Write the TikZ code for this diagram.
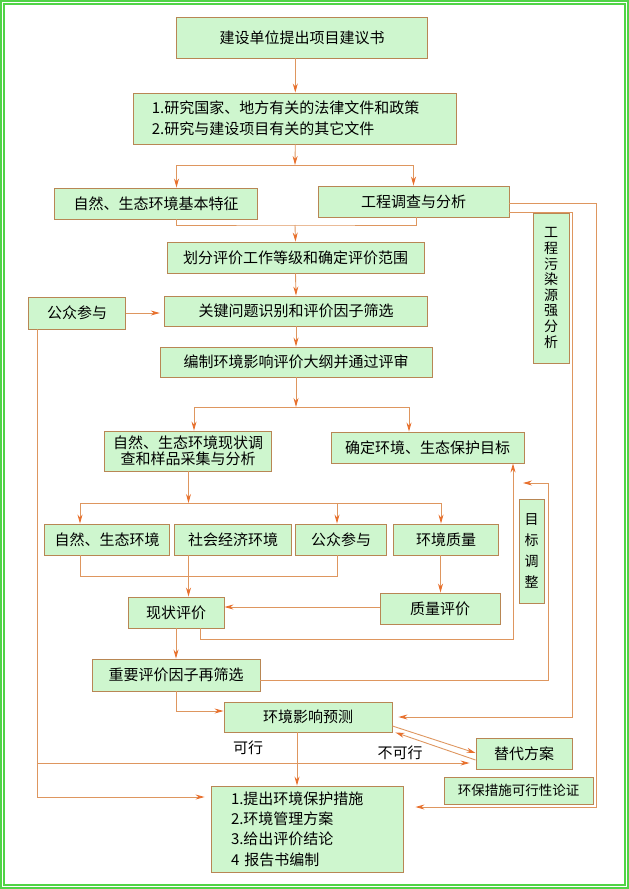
\documentclass[tikz,border=0pt]{standalone}
\usepackage{fontspec}
\setmainfont{Noto Sans CJK SC}
\usetikzlibrary{arrows.meta,positioning}
\definecolor{boxfill}{RGB}{206,246,206}
\definecolor{boxline}{RGB}{184,134,84}
\definecolor{linec}{RGB}{222,150,95}
\definecolor{tipc}{RGB}{232,112,45}
\definecolor{framec}{RGB}{80,212,70}

\begin{document}
\begin{tikzpicture}[x=1pt,y=-1pt,
  box/.style={draw=boxline,fill=boxfill,line width=0.9pt,inner sep=0pt,font=\fontsize{15}{17}\selectfont},
  vbox/.style={box,align=center},
  ln/.style={draw=linec,line width=0.9pt},
  arr/.style={ln,-{Stealth[length=9pt,width=5pt,color=tipc]}}]
\useasboundingbox (0,0) rectangle (629,889);
\draw[framec,line width=1.6pt] (1,1) rectangle (628,888);
\draw[framec,line width=1.6pt] (4,4) rectangle (625,885);

\node[box,minimum width=251,minimum height=41] (prop) at (302,37.5) {建设单位提出项目建议书};
\node[box,minimum width=323,minimum height=51,text width=287,align=left,font=\fontsize{15}{21}\selectfont] (study) at (295.3,118.5)
  {1.研究国家、地方有关的法律文件和政策\\2.研究与建设项目有关的其它文件};
\node[box,minimum width=203.5,minimum height=31] (nat) at (156,203.5) {自然、生态环境基本特征};
\node[box,minimum width=191,minimum height=31] (eng) at (413.5,201.5) {工程调查与分析};
\node[box,minimum width=257,minimum height=31] (grade) at (295.5,257.5) {划分评价工作等级和确定评价范围};
\node[box,minimum width=96.5,minimum height=32] (pub) at (77,313) {公众参与};
\node[box,minimum width=263.5,minimum height=30] (key) at (296,311) {关键问题识别和评价因子筛选};
\node[box,minimum width=272,minimum height=30] (outline) at (296,362) {编制环境影响评价大纲并通过评审};
\node[vbox,minimum width=167.5,minimum height=40,font=\fontsize{15}{16.5}\selectfont] (survey) at (188,451)
  {自然、生态环境现状调\\查和样品采集与分析};
\node[box,minimum width=193,minimum height=31] (target) at (427.5,447.5) {确定环境、生态保护目标};
\node[box,minimum width=124.5,minimum height=31] (envn) at (107,539.5) {自然、生态环境};
\node[box,minimum width=116.5,minimum height=31] (soc) at (233,539.5) {社会经济环境};
\node[box,minimum width=90.5,minimum height=31] (pub2) at (341,539.5) {公众参与};
\node[box,minimum width=104.6,minimum height=31] (qual) at (446,539.5) {环境质量};
\node[box,minimum width=96,minimum height=31] (stat) at (176,612.5) {现状评价};
\node[box,minimum width=120,minimum height=31] (qeval) at (440,608.5) {质量评价};
\node[vbox,minimum width=25,minimum height=104,font=\fontsize{14}{21}\selectfont] (adj) at (531.5,551) {目\\标\\调\\整};
\node[box,minimum width=168,minimum height=32] (refilter) at (176,675) {重要评价因子再筛选};
\node[box,minimum width=168,minimum height=30] (pred) at (308,717) {环境影响预测};
\node[vbox,minimum width=36,minimum height=150,font=\fontsize{14}{15.6}\selectfont] (src) at (551,288)
  {工\\程\\污\\染\\源\\强\\分\\析};
\node[box,minimum width=96,minimum height=31] (alt) at (524,753.5) {替代方案};
\node[box,minimum width=149,minimum height=27,font=\fontsize{13.5}{16}\selectfont] (feas) at (518.5,790.5) {环保措施可行性论证};
\node[box,minimum width=192,minimum height=86,text width=152,align=left,font=\fontsize{15}{20.3}\selectfont] (final) at (307,829)
  {1.提出环境保护措施\\2.环境管理方案\\3.给出评价结论\\4 报告书编制};
\node[font=\fontsize{15}{17}\selectfont] (ok) at (248,748) {可行};
\node[font=\fontsize{15}{17}\selectfont] (nok) at (400,753) {不可行};

\coordinate (s1) at (295,165);
\coordinate (s2) at (295,225);
\coordinate (s3) at (296,407);
\coordinate (s4) at (188.5,503);
\coordinate (s4l) at (80,503);
\coordinate (s4r) at (441,503);
\coordinate (s5) at (80,576);
\coordinate (c1) at (513,639);
\coordinate (c2) at (548,680);
\coordinate (c3) at (523,483);
\coordinate (r1) at (596,203);
\coordinate (r2) at (572,212);
\coordinate (l1) at (37,763);
\coordinate (l2) at (37,797);

\draw[arr] (prop.south -| study.north) -- (study.north);
\draw[arr] (study.south) -- (s1);
\draw[arr] (s1) -| ([xshift=20.5]nat.north);
\draw[arr] (s1) -| (eng.north);
\draw[ln] ([xshift=20.5]nat.south) |- (s2) -| ([xshift=2.5]eng.south);
\draw[arr] (s2) -- (grade.north);
\draw[arr] (grade.south) -- (key.north);
\draw[arr,shorten >=4pt] (pub.east) -- (pub.east -| key.west);
\draw[arr] (key.south) -- (outline.north);
\draw[arr] (outline.south) -- (s3);
\draw[arr] (s3) -| ([xshift=6]survey.north);
\draw[arr] (s3) -| ([xshift=-18.5]target.north);
\draw[arr] (survey.south -| s4) -- (s4);
\draw[ln] (s4l) -- (s4r);
\draw[arr] (s4l) -- (s4l |- envn.north);
\draw[arr] ([xshift=-4]pub2.north |- s4) -- ([xshift=-4]pub2.north);
\draw[arr] (s4r) -- (s4r |- qual.north);
\draw[ln] (s5 |- envn.south) -- (s5) -| ([xshift=-4]pub2.south);
\draw[arr] ([xshift=-44.5]soc.south) -- ([xshift=12.5]stat.north);
\draw[arr] ([xshift=-5.5]qual.south) -- ([xshift=0.5]qeval.north);
\draw[arr] ([yshift=1.5]qeval.west) -- ([yshift=1.5]qeval.west -| stat.east);
\draw[arr] ([xshift=24.5]stat.south) |- (c1) -- (c1 |- target.south);
\draw[arr] (stat.south) -- (refilter.north);
\draw[arr] ([yshift=-5]refilter.east) -- (c2) |- (c3);
\draw[arr] (refilter.south) |- ([yshift=6]pred.west);
\draw[arr,shorten >=12pt] ([yshift=-1.5]eng.east) -- (r1) |- ([yshift=22]final.east);
\draw[arr,shorten >=6pt] ([yshift=-10.5]eng.east) -- (r2) |- (pred.east);
\draw[ln] ([xshift=-40]pub.south) -- (l2);
\draw[arr,shorten >=6pt] (l2) -- (l2 -| final.west);
\draw[arr,shorten >=6pt] (l1) -- (l1 -| alt.west);
\draw[arr] ([xshift=-11]pred.south) -- ([xshift=-11]pred.south |- final.north);
\draw[arr] ([yshift=-9]pred.east) -- ([yshift=0.5]alt.west);
\draw[arr] ([yshift=-6.5]alt.west) -- ([xshift=3]pred.south east);
\end{tikzpicture}
\end{document}
